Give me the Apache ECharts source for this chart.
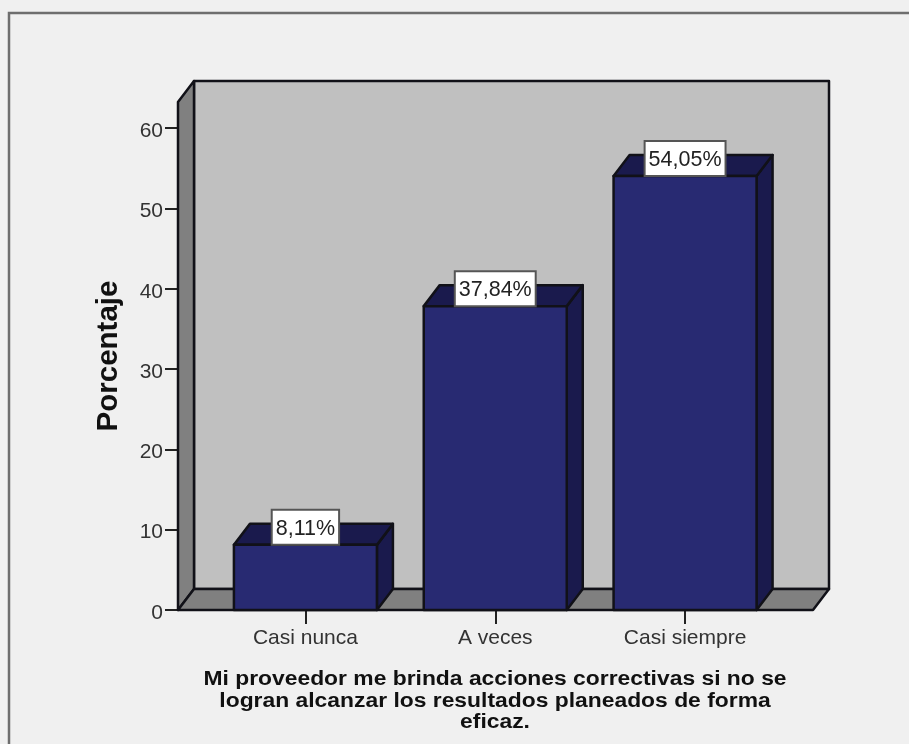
<!DOCTYPE html>
<html>
<head>
<meta charset="utf-8">
<style>html,body{margin:0;padding:0;background:#f0f0f0}#chart{width:909px;height:744px}</style>
<script src="https://cdn.jsdelivr.net/npm/echarts@6/dist/echarts.min.js"></script>
</head>
<body>
<div id="chart"></div>
<script>
// Percentage bar chart drawn as pseudo-3D boxes in front of a chart room.
const categories = ['Casi nunca', 'A veces', 'Casi siempre'];
const percentages = [8.11, 37.84, 54.05];
const valueTicks = [0, 10, 20, 30, 40, 50, 60];
const yTitle = 'Porcentaje';
const xTitle = 'Mi proveedor me brinda acciones correctivas si no se\nlogran alcanzar los resultados planeados de forma\neficaz.';

// Depth of the extrusion, in pixels.
const DX = 16, DY = 21;
const BAR_WIDTH = 143;
// The room extends past the outer category bands on both sides.
const ROOM_LEFT_PAD = 32.5, ROOM_RIGHT_PAD = 33;
const EDGE = '#111118';
const FONT = '"Liberation Sans", Arial, sans-serif';

const poly = (points, fill, lineWidth) => ({
  type: 'polygon',
  shape: { points },
  style: { fill, stroke: EDGE, lineWidth: lineWidth, lineJoin: 'round' }
});

function renderRoom(params, api) {
  const c = params.coordSys;
  const l = c.x - ROOM_LEFT_PAD, r = c.x + c.width + ROOM_RIGHT_PAD;
  const t = c.y, b = c.y + c.height;
  return {
    type: 'group',
    children: [
      poly([[l + DX, t - DY], [r + DX, t - DY], [r + DX, b - DY], [l + DX, b - DY]], '#c0c0c0', 2.5),
      poly([[l, t], [l + DX, t - DY], [l + DX, b - DY], [l, b]], '#808080', 2.5),
      poly([[l, b], [l + DX, b - DY], [r + DX, b - DY], [r, b]], '#808080', 2.5)
    ]
  };
}

function renderBar(params, api) {
  const base = api.coord([api.value(0), 0]);
  const top = api.coord([api.value(0), api.value(1)]);
  const x0 = base[0] - BAR_WIDTH / 2, x1 = base[0] + BAR_WIDTH / 2;
  const y0 = top[1], y1 = base[1];
  const text = api.value(1).toFixed(2).replace('.', ',') + '%';
  return {
    type: 'group',
    children: [
      poly([[x1, y0], [x1 + DX, y0 - DY], [x1 + DX, y1 - DY], [x1, y1]], '#1a1a4d', 2.5),
      poly([[x0, y0], [x0 + DX, y0 - DY], [x1 + DX, y0 - DY], [x1, y0]], '#1a1a4d', 2.5),
      poly([[x0, y0], [x1, y0], [x1, y1], [x0, y1]], '#282a72', 2.5),
      {
        type: 'text',
        x: base[0],
        y: y0 - 1,
        style: {
          text,
          fontFamily: FONT,
          fontSize: 21.5,
          fill: '#222',
          align: 'center',
          verticalAlign: 'bottom',
          backgroundColor: '#fff',
          borderColor: '#555',
          borderWidth: 2,
          padding: [7, 3, 4, 3]
        }
      }
    ]
  };
}

const chart = echarts.init(document.getElementById('chart'), null, { renderer: 'canvas' });
chart.setOption({
  animation: false,
  backgroundColor: '#f0f0f0',
  grid: { left: 210.5, top: 102, width: 569.5, height: 508, containLabel: false },
  graphic: [
    {
      type: 'polyline',
      silent: true,
      z: 0,
      shape: { points: [[9, 744], [9, 13], [909, 13]] },
      style: { stroke: '#6e6e6e', lineWidth: 2.5, fill: 'none' }
    },
    {
      // Axis caption, set wider than its height would give in this face.
      type: 'text',
      silent: true,
      x: 495,
      y: 701,
      scaleX: 1.143,
      style: {
        text: xTitle,
        fontFamily: FONT,
        fontSize: 20,
        fontWeight: 'bold',
        fill: '#111',
        lineHeight: 21.5,
        align: 'center',
        verticalAlign: 'middle'
      }
    }
  ],
  xAxis: {
    type: 'category',
    data: categories,
    axisLine: { show: false },
    axisTick: { show: true, alignWithLabel: true, length: 14, lineStyle: { color: '#222', width: 2 } },
    axisLabel: { fontFamily: FONT, fontSize: 21, color: '#333', margin: 18 }
  },
  yAxis: {
    type: 'value',
    min: 0,
    max: 63.26,
    offset: ROOM_LEFT_PAD,
    splitLine: { show: false },
    axisLine: { show: false },
    axisTick: { show: true, length: 13, customValues: valueTicks, lineStyle: { color: '#222', width: 2 } },
    // The short top-aligned line box sets each number slightly below its tick.
    axisLabel: { fontFamily: FONT, fontSize: 21, color: '#333', margin: 15, verticalAlign: 'top', lineHeight: 6, customValues: valueTicks },
    name: yTitle,
    nameLocation: 'middle',
    nameGap: 54,
    nameRotate: 90,
    nameTextStyle: { fontFamily: FONT, fontSize: 29.5, fontWeight: 'bold', color: '#111' }
  },
  series: [
    { type: 'custom', silent: true, clip: false, z: 1, renderItem: renderRoom, data: [[0, 0]] },
    {
      type: 'custom', silent: true, clip: false, z: 2, renderItem: renderBar,
      encode: { x: 0, y: 1 },
      data: percentages.map((v, i) => [i, v])
    }
  ]
});
</script>
</body>
</html>
